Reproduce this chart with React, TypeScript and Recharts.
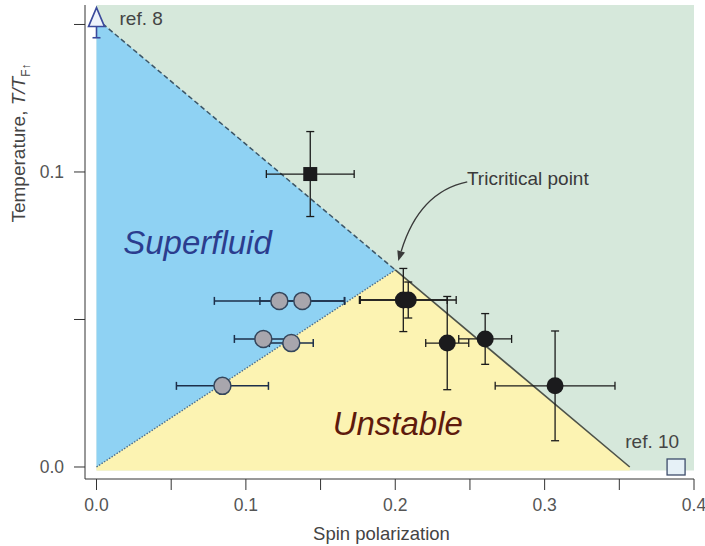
import {
  ComposedChart,
  XAxis,
  YAxis,
  Area,
  Scatter,
  ErrorBar,
  ReferenceLine,
  ReferenceDot,
} from 'recharts';

// phase diagram corners (spin polarization, T/T_F)
const TOP_T = 0.152;
const TRI_P = 0.2;
const TRI_T = 0.0668;
const UNSTABLE_END = 0.357;
const PLOT_TOP = 0.1566;

// region boundaries sampled at these polarizations
const regionX = [0, TRI_P, UNSTABLE_END, 0.4];
const normalRange: ([number, number] | null)[] = [[-0.0012, PLOT_TOP], [-0.0012, PLOT_TOP], [-0.0012, PLOT_TOP], [-0.0012, PLOT_TOP]];
const superfluidRange: ([number, number] | null)[] = [[0, TOP_T], [TRI_T, TRI_T], null, null];
const unstableRange: ([number, number] | null)[] = [[-0.0012, 0], [-0.0012, TRI_T], [-0.0012, 0], null];

// superfluid measurements (grey circles)
const greyX = [0.1224, 0.1378, 0.1117, 0.1304, 0.0843];
const greyY = [0.0563, 0.0563, 0.0434, 0.042, 0.0275];
const greyXErr = [0.0435, 0.0284, 0.0194, 0.0147, 0.0308];

// normal / unstable measurements (black circles)
const blackX = [0.2054, 0.2087, 0.2348, 0.2602, 0.307];
const blackY = [0.0566, 0.0566, 0.042, 0.0434, 0.0275];
const blackXErr = [0.0294, 0.0321, 0.0144, 0.0177, 0.0401];
const blackYErr = [0.0107, 0.0061, 0.0158, 0.0086, 0.0186];

// single black square
const squareX = [0.1431];
const squareY = [0.0993];
const squareXErr = [0.0294];
const squareYErr = [0.0144];

// literature values
const ref8 = { x: 0, y: 0.152, ey: [0.0065, 0] };
const ref10 = { x: 0.388, y: 0 };

const xTicks = [0, 0.05, 0.1, 0.15, 0.2, 0.25, 0.3, 0.35, 0.4];
const yTicks = [0, 0.05, 0.1, 0.15];
const yLabelled = [0, 0.1];

const regionData = regionX.map((x, i) => ({
  x,
  normal: normalRange[i],
  superfluid: superfluidRange[i],
  unstable: unstableRange[i],
}));
const greyPoints = greyX.map((x, i) => ({ x, y: greyY[i], ex: greyXErr[i] }));
const blackPoints = blackX.map((x, i) => ({ x, y: blackY[i], ex: blackXErr[i], ey: blackYErr[i] }));
const squarePoints = squareX.map((x, i) => ({ x, y: squareY[i], ex: squareXErr[i], ey: squareYErr[i] }));

const FONT = '"Liberation Sans", Arial, Helvetica, sans-serif';

const GreyDot = (p: any) => (
  <circle cx={p.cx} cy={p.cy} r={8.5} fill="#a8a6ad" stroke="#34465c" strokeWidth={1.5} />
);
const BlackDot = (p: any) => <circle cx={p.cx} cy={p.cy} r={8.5} fill="#1b1b1d" />;
const BlackSquare = (p: any) => <rect x={p.cx - 7} y={p.cy - 7} width={14} height={14} fill="#1b1b1d" />;
const OpenTriangle = (p: any) => (
  <polygon
    points={`${p.cx},${p.cy - 11} ${p.cx - 8},${p.cy + 8} ${p.cx + 8},${p.cy + 8}`}
    fill="#eef3fb"
    stroke="#3b4a9c"
    strokeWidth={1.6}
  />
);
const OpenSquare = (p: any) => (
  <rect x={p.cx - 9} y={p.cy - 8} width={18} height={16} fill="#e6f1f7" stroke="#3d4d6b" strokeWidth={1.3} />
);

const note = (text: string, opts: { size: number; fill: string; italic?: boolean; anchor?: 'start' | 'middle' }) =>
  (p: any) => (
    <text
      x={p.cx}
      y={p.cy}
      fontFamily={FONT}
      fontSize={opts.size}
      fill={opts.fill}
      fontStyle={opts.italic ? 'italic' : 'normal'}
      textAnchor={opts.anchor ?? 'start'}
    >
      {text}
    </text>
  );

// curved arrow pointing at the tricritical point
const TriArrow = (p: any) => {
  const ex = p.cx + 3, ey = p.cy - 9;
  const sx = p.cx + 72, sy = p.cy - 88;
  const qx = p.cx + 24, qy = p.cy - 78;
  let dx = ex - qx, dy = ey - qy;
  const len = Math.hypot(dx, dy);
  dx /= len; dy /= len;
  const bx = ex - dx * 10, by = ey - dy * 10;
  return (
    <g>
      <path d={`M${sx},${sy} Q${qx},${qy} ${bx},${by}`} fill="none" stroke="#3a3a3a" strokeWidth={1.4} />
      <polygon
        points={`${ex},${ey} ${bx - dy * 4},${by + dx * 4} ${bx + dy * 4},${by - dx * 4}`}
        fill="#3a3a3a"
      />
    </g>
  );
};

const XLabel = (p: any) => {
  const vb = p.viewBox;
  return (
    <text x={vb.x + vb.width / 2 - 8} y={vb.y + 61} textAnchor="middle" fontFamily={FONT} fontSize={18.5} fill="#444">
      Spin polarization
    </text>
  );
};

const YLabel = () => (
  <text x={0} y={0} transform="translate(25,143) rotate(-90)" textAnchor="middle" fontFamily={FONT} fontSize={19} fill="#444">
    Temperature,{' '}
    <tspan fontStyle="italic">T/T</tspan>
    <tspan fontSize={12} dy={5}>F↑</tspan>
  </text>
);

const fmtX = (v: number) => (Math.abs(v * 10 - Math.round(v * 10)) < 1e-6 ? v.toFixed(1) : '');
const fmtY = (v: number) => (yLabelled.some((t) => Math.abs(t - v) < 1e-9) ? v.toFixed(1) : '');

export default function App() {
  return (
    <div style={{ position: 'absolute', left: 0, top: 0, background: '#fff' }}>
      <ComposedChart width={705} height={546} data={regionData} margin={{ top: 5, right: 11, bottom: 0, left: 0 }}>
        <XAxis
          type="number"
          dataKey="x"
          domain={[-0.0077, 0.4]}
          allowDataOverflow
          ticks={xTicks}
          tickFormatter={fmtX}
          interval={0}
          stroke="#333"
          tickSize={11}
          tickMargin={9}
          tick={{ fill: '#555', fontSize: 17.5, fontFamily: FONT }}
          height={67}
          label={<XLabel />}
        />
        <YAxis
          type="number"
          domain={[-0.00407, PLOT_TOP]}
          allowDataOverflow
          ticks={yTicks}
          tickFormatter={fmtY}
          interval={0}
          stroke="#333"
          tickSize={11}
          tickMargin={10}
          tick={{ fill: '#555', fontSize: 17.5, fontFamily: FONT }}
          width={85}
          label={<YLabel />}
        />

        <Area dataKey="normal" type="linear" fill="#d6e8db" fillOpacity={1} stroke="none" connectNulls isAnimationActive={false} />
        <Area dataKey="superfluid" type="linear" fill="#8fd2f3" fillOpacity={1} stroke="none" isAnimationActive={false} />
        <Area dataKey="unstable" type="linear" fill="#fcf3b2" fillOpacity={1} stroke="none" isAnimationActive={false} />

        <ReferenceLine
          segment={[{ x: 0, y: TOP_T }, { x: TRI_P, y: TRI_T }]}
          stroke="#3c5566"
          strokeWidth={1.5}
          strokeDasharray="5 3"
        />
        <ReferenceLine
          segment={[{ x: 0, y: 0 }, { x: TRI_P, y: TRI_T }]}
          stroke="#4b6d8c"
          strokeWidth={1.4}
          strokeDasharray="1.5 1.5"
        />
        <ReferenceLine
          segment={[{ x: TRI_P, y: TRI_T }, { x: UNSTABLE_END, y: 0 }]}
          stroke="#4d5249"
          strokeWidth={1.6}
        />

        <ReferenceDot x={0.0676} y={0.0722} shape={note('Superfluid', { size: 33, fill: '#2b3d8e', italic: true, anchor: 'middle' })} />
        <ReferenceDot x={0.2017} y={0.0108} shape={note('Unstable', { size: 33, fill: '#5e1a0c', italic: true, anchor: 'middle' })} />
        <ReferenceDot x={0.248} y={0.0956} shape={note('Tricritical point', { size: 19, fill: '#3a3a3a' })} />
        <ReferenceDot x={0.0154} y={0.1498} shape={note('ref. 8', { size: 19, fill: '#444' })} />
        <ReferenceDot x={0.354} y={0.0064} shape={note('ref. 10', { size: 19, fill: '#444' })} />
        <ReferenceDot x={TRI_P} y={TRI_T} shape={TriArrow} />

        <Scatter data={greyPoints} dataKey="y" shape={GreyDot} isAnimationActive={false}>
          <ErrorBar dataKey="ex" direction="x" width={4} stroke="#1d2f4a" strokeWidth={1.5} />
        </Scatter>
        <Scatter data={blackPoints} dataKey="y" shape={BlackDot} isAnimationActive={false}>
          <ErrorBar dataKey="ex" direction="x" width={4} stroke="#1b1b1b" strokeWidth={1.3} />
          <ErrorBar dataKey="ey" direction="y" width={4} stroke="#1b1b1b" strokeWidth={1.3} />
        </Scatter>
        <Scatter data={squarePoints} dataKey="y" shape={BlackSquare} isAnimationActive={false}>
          <ErrorBar dataKey="ex" direction="x" width={4} stroke="#1b1b1b" strokeWidth={1.3} />
          <ErrorBar dataKey="ey" direction="y" width={4} stroke="#1b1b1b" strokeWidth={1.3} />
        </Scatter>
        <Scatter data={[ref8]} dataKey="y" shape={OpenTriangle} isAnimationActive={false}>
          <ErrorBar dataKey="ey" direction="y" width={4} stroke="#3b4a9c" strokeWidth={1.6} />
        </Scatter>
        <Scatter data={[ref10]} dataKey="y" shape={OpenSquare} isAnimationActive={false} />
      </ComposedChart>
    </div>
  );
}
